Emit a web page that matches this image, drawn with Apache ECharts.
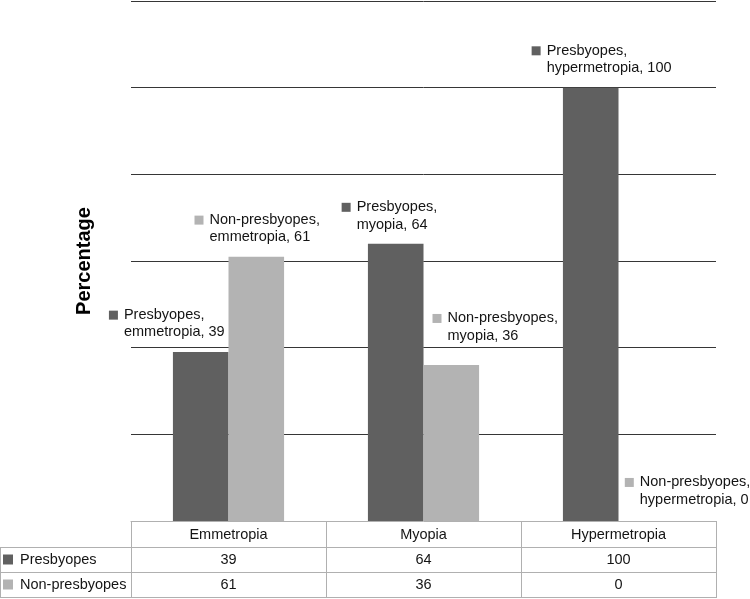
<!DOCTYPE html>
<html><head><meta charset="utf-8">
<script src="https://cdn.jsdelivr.net/npm/echarts@6/dist/echarts.min.js"></script>
<style>html,body{margin:0;padding:0;background:#fff}#c{width:750px;height:599px}</style>
</head><body><div id="c"></div>
<script>
// ---- data ----
const categories = ['Emmetropia', 'Myopia', 'Hypermetropia'];
const seriesNames = ['Presbyopes', 'Non-presbyopes'];
const presbyopes = [39, 64, 100];
const nonPresbyopes = [61, 36, 0];
const yMin = 0, yMax = 120, yStep = 20;

// ---- styling / layout ----
const colors = ['#606060', '#b3b3b3'];
const FONT = '"Liberation Sans", Arial, Helvetica, sans-serif';
const FS = 14.5;
const TXT = '#141414';
const TABLE_LINE = '#b0b0b0';
const GRID_LINE = '#363636';
const gridLeft = 131, gridRight = 716, gridTop = 1, gridBottom = 521;
const labelPos = [
  [[-64, -45.5], [-26.3, -45], [-31.3, -45.5]],
  [[-34, -45.2], [9, -55.2], [6.3, -47.2]]
];

function makeSeries(si, values) {
  const base = { fontFamily: FONT, fontSize: FS, color: TXT, lineHeight: 17.3 };
  return {
    type: 'bar', name: seriesNames[si], xAxisIndex: 0, yAxisIndex: 0,
    barGap: '0%', barCategoryGap: '43%',
    itemStyle: { color: colors[si] },
    silent: true, emphasis: { disabled: true },
    data: values.map((v, i) => ({ value: v, label: { position: labelPos[si][i] } })),
    label: {
      show: true, align: 'left', verticalAlign: 'top',
      fontFamily: FONT, fontSize: FS, color: TXT, lineHeight: 17.3,
      formatter: p => `{sq|}{gap|}{t|${p.seriesName},}\n{t2|${p.name.toLowerCase()}, ${p.value}}`,
      rich: {
        sq: { width: 9, height: 9, backgroundColor: colors[si] },
        gap: { width: 6, height: 9 },
        t: base,
        t2: Object.assign({ padding: [0, 0, 0, 15] }, base)
      }
    }
  };
}

const rows = [presbyopes, nonPresbyopes];
const xAxes = [0, 1, 2].map(k => ({
  type: 'category', data: categories, position: 'bottom', gridIndex: 0,
  offset: k * 25,
  axisLine: { show: k === 0, lineStyle: { color: TABLE_LINE, width: 1 } },
  axisTick: { show: false },
  splitLine: { show: false },
  axisLabel: {
    margin: 6, fontFamily: FONT, fontSize: FS, color: TXT, interval: 0,
    formatter: k === 0 ? (v => v) : ((v, i) => String(rows[k - 1][i]))
  }
}));

const chart = echarts.init(document.getElementById('c'), null, { renderer: 'canvas' });

// table lines & row headers
const graphics = [];
const colW = (gridRight - gridLeft) / categories.length;
const rowLines = [547.5, 572.5, 597.5];
rowLines.forEach(y => graphics.push({ type: 'line', silent: true,
  shape: { x1: 0, y1: y, x2: gridRight, y2: y }, style: { stroke: TABLE_LINE, lineWidth: 1 } }));
graphics.push({ type: 'line', silent: true, shape: { x1: 0.5, y1: 547, x2: 0.5, y2: 598 },
  style: { stroke: TABLE_LINE, lineWidth: 1 } });
for (let k = 0; k <= categories.length; k++) {
  const x = Math.round(gridLeft + k * colW) + 0.5;
  graphics.push({ type: 'line', silent: true, shape: { x1: x, y1: gridBottom, x2: x, y2: 598 },
    style: { stroke: TABLE_LINE, lineWidth: 1 } });
}
seriesNames.forEach((n, si) => {
  const cy = 559.5 + si * 25;
  graphics.push({ type: 'rect', silent: true, shape: { x: 3, y: cy - 5, width: 10, height: 10 },
    style: { fill: colors[si] } });
  graphics.push({ type: 'text', silent: true, x: 20, y: cy,
    style: { text: n, fontFamily: FONT, fontSize: FS, fill: TXT, verticalAlign: 'middle', align: 'left' } });
});

const splitColors = [];
for (let v = yMin; v <= yMax; v += yStep) splitColors.push(v === 0 ? 'rgba(0,0,0,0)' : GRID_LINE);

chart.setOption({
  animation: false,
  backgroundColor: '#fff',
  grid: { left: gridLeft, right: 750 - gridRight, top: gridTop, bottom: 599 - gridBottom },
  xAxis: xAxes,
  yAxis: {
    type: 'value', min: yMin, max: yMax, interval: yStep,
    name: 'Percentage', nameLocation: 'middle', nameGap: 37, nameRotate: 90,
    nameTextStyle: { fontFamily: FONT, fontSize: 20, fontWeight: 'bold', color: '#000' },
    axisLine: { show: false }, axisTick: { show: false }, axisLabel: { show: false },
    splitLine: { show: true, lineStyle: { color: splitColors, width: 1 } }
  },
  series: [makeSeries(0, presbyopes), makeSeries(1, nonPresbyopes)],
  graphic: graphics
});
</script>
</body></html>
